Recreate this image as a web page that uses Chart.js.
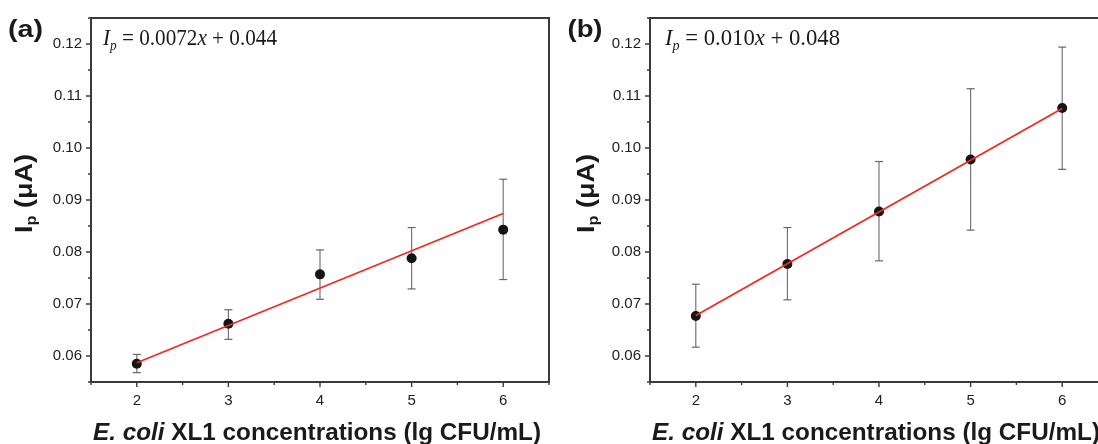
<!DOCTYPE html>
<html><head><meta charset="utf-8">
<script src="https://cdn.jsdelivr.net/npm/chart.js@4.4.1/dist/chart.umd.min.js"></script>
<style>
html,body{margin:0;padding:0;background:#fff;width:1098px;height:444px;overflow:hidden;}
#wrap{position:relative;width:1098px;height:444px;overflow:hidden;background:#fff;}
canvas{position:absolute;top:0;}
#ca{left:0}
#cb{left:559px}
</style></head><body>
<div id="wrap"><canvas id="ca" width="560" height="444"></canvas><canvas id="cb" width="560" height="444"></canvas></div>
<script>
// ---- data ----
const xValues = [2, 3, 4, 5, 6];
const meanA = [0.0585, 0.0662, 0.0757, 0.0788, 0.0843];
const errHighA = [0.0603, 0.0689, 0.0804, 0.0847, 0.0940];
const errLowA = [0.0568, 0.0632, 0.0709, 0.0729, 0.0747];
const fitXA = [2, 6];
const fitYA = [0.0587, 0.0874];
const meanB = [0.0677, 0.0777, 0.0878, 0.0978, 0.1077];
const errHighB = [0.0738, 0.0847, 0.0974, 0.1114, 0.1194];
const errLowB = [0.0617, 0.0708, 0.0783, 0.0842, 0.0959];
const fitXB = [2, 6];
const fitYB = [0.0678, 0.1076];
const yTickLabels = ['0.06', '0.07', '0.08', '0.09', '0.10', '0.11', '0.12'];
const xTickLabels = ['2', '3', '4', '5', '6'];
const yRange = [0.055, 0.125];
const xRange = [1.5, 6.5];
const panelLabels = ['(a)', '(b)'];
const equationA = ['I', 'p', ' = 0.0072', 'x', ' + 0.044'];
const equationB = ['I', 'p', ' = 0.010', 'x', ' + 0.048'];
const xTitleParts = ['E. coli', ' XL1 concentrations (lg CFU/mL)'];
const yTitleParts = ['I', 'p', ' (\u03BCA)'];

const SANS = '"Liberation Sans", Arial, sans-serif';
const SERIF = '"Liberation Serif", "Times New Roman", serif';

function drawParts(ctx, parts, width) {
  let total = 0;
  parts.forEach(p => { ctx.font = p.f; total += ctx.measureText(p.t).width; });
  const s = width / total;
  ctx.scale(s, 1);
  let cx = 0;
  parts.forEach(p => {
    ctx.font = p.f;
    ctx.fillText(p.t, cx, p.dy || 0);
    cx += ctx.measureText(p.t).width;
  });
}

const framePlugin = {
  id: 'frame',
  afterDraw(chart, args, o) {
    const ctx = chart.ctx, a = chart.chartArea;
    const xs = chart.scales.x, ys = chart.scales.y;
    ctx.save();
    ctx.strokeStyle = '#3a3a3a';
    ctx.lineWidth = 1.4;
    const yv = ys.ticks.map(t => t.value);
    const xv = xs.ticks.map(t => t.value);
    function minors(v, lo, hi) {
      const out = [];
      for (let i = 0; i < v.length - 1; i++) out.push((v[i] + v[i + 1]) / 2);
      const st = v[1] - v[0];
      if (v[0] - st / 2 >= lo - 1e-9) out.push(v[0] - st / 2);
      if (v[v.length - 1] + st / 2 <= hi + 1e-9) out.push(v[v.length - 1] + st / 2);
      return out;
    }
    ctx.beginPath();
    yv.forEach(v => { const p = ys.getPixelForValue(v); ctx.moveTo(a.left - 5, p); ctx.lineTo(a.left, p); });
    minors(yv, ys.min, ys.max).forEach(v => { const p = ys.getPixelForValue(v); ctx.moveTo(a.left - 3, p); ctx.lineTo(a.left, p); });
    xv.forEach(v => { const p = xs.getPixelForValue(v); ctx.moveTo(p, a.bottom); ctx.lineTo(p, a.bottom + 5); });
    minors(xv, xs.min, xs.max).forEach(v => { const p = xs.getPixelForValue(v); ctx.moveTo(p, a.bottom); ctx.lineTo(p, a.bottom + 3); });
    ctx.stroke();
    ctx.strokeStyle = '#3a3a3a';
    ctx.lineWidth = 2;
    ctx.strokeRect(a.left, a.top, a.right - a.left, a.bottom - a.top);

    ctx.fillStyle = '#1a1a1a';
    ctx.textBaseline = 'alphabetic';
    ctx.textAlign = 'left';
    ctx.save(); ctx.translate(o.labelX, 37);
    drawParts(ctx, [{t: o.label, f: 'bold 24px ' + SANS}], 35);
    ctx.restore();
    const eq = o.eq;
    ctx.save(); ctx.translate(o.eqX, 45);
    drawParts(ctx, [
      {t: eq[0], f: 'italic 24px ' + SERIF},
      {t: eq[1], f: 'italic 15px ' + SERIF, dy: 5},
      {t: eq[2], f: '24px ' + SERIF},
      {t: eq[3], f: 'italic 24px ' + SERIF},
      {t: eq[4], f: '24px ' + SERIF}
    ], o.eqW);
    ctx.restore();
    ctx.save(); ctx.translate(93, 440);
    drawParts(ctx, [
      {t: xTitleParts[0], f: 'italic bold 24px ' + SANS},
      {t: xTitleParts[1], f: 'bold 24px ' + SANS}
    ], 448);
    ctx.restore();
    ctx.save(); ctx.translate(o.yTitleX, 233); ctx.rotate(-Math.PI / 2);
    drawParts(ctx, [
      {t: yTitleParts[0], f: 'bold 23px ' + SANS},
      {t: yTitleParts[1], f: 'bold 14px ' + SANS, dy: 4},
      {t: yTitleParts[2], f: 'bold 23px ' + SANS}
    ], 79);
    ctx.restore();
    ctx.restore();
  }
};

function makePanel(id, mean, lo, hi, fitX, fitY, pluginOpts) {
  const errData = [];
  xValues.forEach((x, i) => {
    errData.push({x: x, y: lo[i]}, {x: x, y: hi[i]}, {x: x, y: null});
  });
  new Chart(document.getElementById(id), {
    type: 'scatter',
    data: {
      datasets: [
        {
          data: fitX.map((x, i) => ({x: x, y: fitY[i]})),
          showLine: true, borderColor: '#ee2a22', borderWidth: 1.8,
          pointRadius: 0, order: 0
        },
        {
          data: xValues.map((x, i) => ({x: x, y: mean[i]})),
          pointRadius: 5, pointBackgroundColor: '#141414', pointBorderColor: '#141414',
          pointBorderWidth: 0, order: 1
        },
        {
          data: errData, showLine: true, spanGaps: false,
          borderColor: '#777777', borderWidth: 1.2,
          pointStyle: 'line', pointRadius: 4, pointBorderColor: '#666666', pointBorderWidth: 1.2,
          order: 2
        }
      ]
    },
    options: {
      responsive: false, animation: false, events: [],
      layout: {padding: {left: 0, right: 11, top: 15, bottom: 0}},
      plugins: {legend: {display: false}, tooltip: {enabled: false}, frame: pluginOpts},
      scales: {
        x: {
          type: 'linear', min: xRange[0], max: xRange[1],
          afterBuildTicks: s => { s.ticks = xTickLabels.map(v => ({value: parseFloat(v)})); },
          afterFit: s => { s.height = 62; },
          grid: {display: false, drawTicks: false},
          border: {display: false},
          ticks: {
            autoSkip: false, maxRotation: 0, padding: 10, color: '#222',
            font: {family: SANS, size: 15},
            callback: (v, i) => xTickLabels[i]
          }
        },
        y: {
          type: 'linear', min: yRange[0], max: yRange[1],
          afterBuildTicks: s => { s.ticks = yTickLabels.map(v => ({value: parseFloat(v)})); },
          afterFit: s => { s.width = 91; },
          grid: {display: false, drawTicks: false},
          border: {display: false},
          ticks: {
            autoSkip: false, padding: 9, color: '#222',
            font: {family: SANS, size: 15},
            callback: (v, i) => yTickLabels[i]
          }
        }
      }
    },
    plugins: [framePlugin]
  });
}

makePanel('ca', meanA, errLowA, errHighA, fitXA, fitYA,
  {label: panelLabels[0], labelX: 8, eq: equationA, eqX: 103, eqW: 174, yTitleX: 32});
makePanel('cb', meanB, errLowB, errHighB, fitXB, fitYB,
  {label: panelLabels[1], labelX: 8.5, eq: equationB, eqX: 106, eqW: 175, yTitleX: 35});
</script>
</body></html>
